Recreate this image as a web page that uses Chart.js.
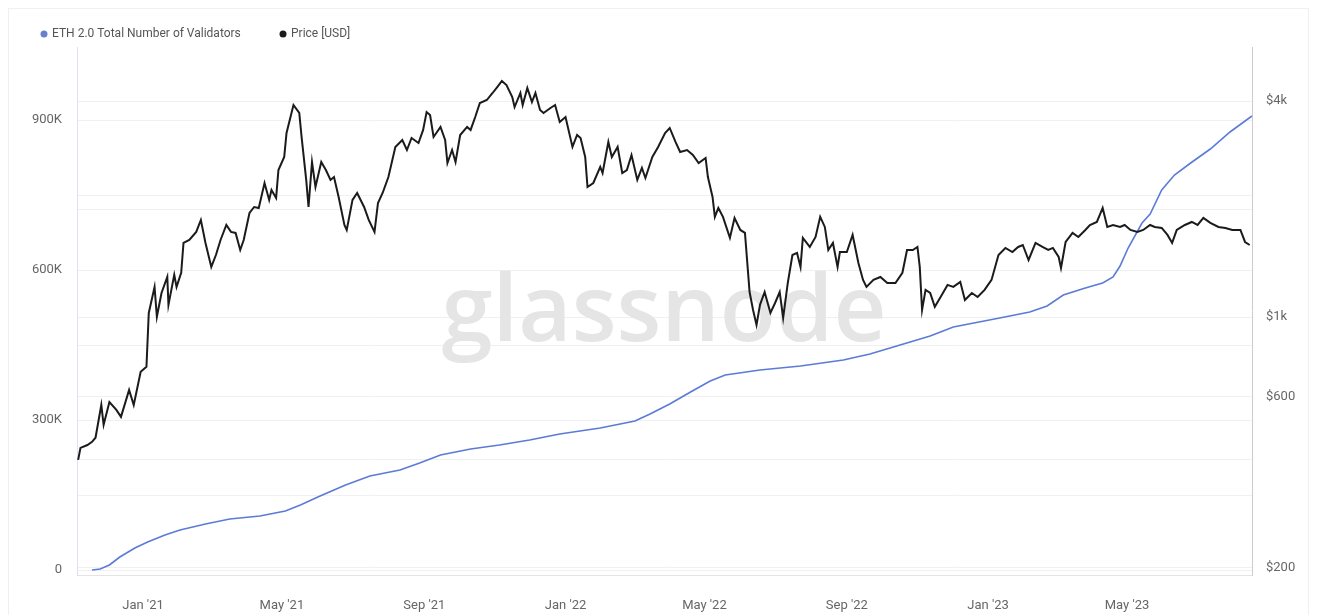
<!DOCTYPE html>
<html>
<head>
<meta charset="utf-8">
<script src="https://cdn.jsdelivr.net/npm/chart.js@4.4.0/dist/chart.umd.min.js"></script>
<style>
    html, body { margin: 0; padding: 0; background: #fff; }
    canvas { display: block; }
</style>
</head>
<body>
<canvas id="chart_validators" width="1317" height="615"></canvas>
<script>
// x values are days counted from 1 Jan 2021
let xTickDays = [0, 120, 243, 365, 485, 608, 730, 850];
let xTickLabels = ["Jan '21", "May '21", "Sep '21", "Jan '22", "May '22", "Sep '22", "Jan '23", "May '23"];

let validatorTicks = [0, 150000, 300000, 450000, 600000, 750000, 900000];
let validatorTickLabels = ['0', '', '300K', '', '600K', '', '900K'];

let priceTicks = [200, 400, 600, 1000, 2000, 4000];
let priceTickLabels = ['$200', '', '$600', '$1k', '', '$4k'];

let validatorDays = [-44, -37, -29, -20, -7, 4, 19, 32, 54, 75, 101, 123, 136, 153, 175, 196, 222, 239, 257, 283,
    308, 334, 360, 395, 425, 438, 455, 473, 490, 503, 533, 568, 605, 628, 654, 680, 700, 740, 766, 781,
    795, 814, 829, 838, 844, 851, 863, 870, 880, 891, 905, 922, 939, 958];
let validatorCount = [0, 2000, 10000, 26000, 44000, 56000, 70000, 80000, 92000, 102000, 108000, 118000, 130000, 148000, 170000, 188000, 200000, 214000, 230000, 242000,
    250000, 260000, 272000, 284000, 298000, 312000, 332000, 356000, 378000, 390000, 400000, 408000, 420000, 432000, 450000, 468000, 486000, 504000, 516000, 528000,
    550000, 564000, 574000, 586000, 608000, 644000, 694000, 712000, 760000, 790000, 814000, 842000, 876000, 908000];

let priceDays = [-56, -54, -48, -44, -41, -36, -34, -29, -23, -19, -12, -8, -2, 3, 5, 10, 12, 16, 21, 22,
    27, 29, 33, 35, 40, 46, 50, 54, 59, 63, 67, 72, 76, 80, 84, 87, 92, 96, 100, 105,
    109, 111, 115, 117, 122, 124, 130, 135, 137, 141, 143, 146, 149, 154, 158, 162, 165, 169, 174, 176,
    181, 185, 191, 195, 200, 203, 207, 212, 218, 224, 228, 232, 238, 242, 245, 248, 251, 257, 261, 263,
    267, 270, 274, 280, 283, 287, 291, 297, 302, 306, 310, 314, 319, 321, 326, 328, 332, 336, 339, 343,
    346, 352, 356, 360, 365, 371, 375, 378, 382, 384, 389, 395, 397, 402, 405, 410, 414, 418, 422, 427,
    431, 434, 440, 445, 451, 455, 460, 464, 470, 475, 480, 486, 488, 492, 494, 497, 501, 507, 511, 516,
    520, 524, 527, 530, 533, 537, 542, 546, 550, 553, 557, 561, 565, 568, 570, 576, 581, 585, 589, 592,
    596, 600, 602, 608, 613, 618, 622, 625, 631, 637, 643, 650, 656, 660, 665, 669, 671, 673, 676, 680,
    684, 689, 695, 700, 706, 710, 716, 721, 727, 733, 739, 745, 751, 756, 760, 765, 771, 777, 782, 786,
    791, 793, 797, 803, 808, 814, 818, 824, 829, 833, 838, 844, 848, 853, 859, 864, 870, 874, 880, 885,
    889, 893, 900, 906, 911, 916, 922, 929, 935, 941, 948, 952, 956];
let priceUsd = [400, 432, 440, 449, 461, 569, 501, 580, 551, 527, 627, 569, 704, 727, 1027, 1214, 1002, 1168, 1294, 1082,
    1312, 1214, 1329, 1610, 1641, 1728, 1866, 1610, 1380, 1490, 1641, 1807, 1728, 1717, 1539, 1641, 1952, 2028, 2015, 2366,
    2122, 2263, 2150, 2571, 2796, 3262, 3903, 3708, 3179, 2412, 2028, 2707, 2306, 2707, 2571, 2412, 2458, 2163, 1807, 1750,
    2122, 2219, 2028, 1866, 1728, 2081, 2219, 2458, 2982, 3118, 2924, 3158, 3059, 3326, 3731, 3660, 3179, 3390, 3118, 2690,
    2924, 2707, 3220, 3390, 3326, 3614, 3954, 4030, 4216, 4380, 4554, 4438, 4108, 3853, 4216, 3903, 4352, 3978, 4216, 3780,
    3708, 3829, 3903, 3500, 3614, 2982, 3220, 3158, 2796, 2306, 2366, 2622, 2522, 3079, 2796, 2982, 2522, 2571, 2832, 2412,
    2605, 2443, 2796, 2982, 3262, 3368, 3079, 2887, 2924, 2832, 2690, 2778, 2458, 2163, 1903, 2015, 1903, 1663, 1890, 1750,
    1717, 1175, 1047, 951, 1082, 1175, 1027, 1095, 1175, 995, 1245, 1490, 1510, 1380, 1663, 1569, 1673, 1903, 1784, 1539,
    1610, 1380, 1519, 1519, 1695, 1416, 1270, 1214, 1270, 1294, 1245, 1245, 1329, 1539, 1539, 1569, 1380, 1047, 1191, 1168,
    1068, 1138, 1230, 1214, 1254, 1116, 1168, 1138, 1191, 1270, 1490, 1559, 1519, 1569, 1589, 1443, 1610, 1569, 1539, 1559,
    1471, 1371, 1620, 1717, 1673, 1750, 1807, 1842, 2015, 1784, 1807, 1784, 1807, 1750, 1728, 1750, 1807, 1784, 1773, 1695,
    1610, 1750, 1807, 1842, 1807, 1890, 1831, 1784, 1773, 1750, 1750, 1620, 1589];

// white card, thin frame, watermark
let glassnodeBackground = {
    id: 'glassnodeBackground',
    beforeDraw(chart) {
        let c = chart.ctx;
        c.save();
        c.fillStyle = '#ffffff';
        c.fillRect(0, 0, chart.width, chart.height);
        c.strokeStyle = '#f0f0f0';
        c.lineWidth = 1;
        c.strokeRect(8.5, 8.5, 1300, 640);
        c.restore();
    },
    beforeDatasetsDraw(chart) {
        let c = chart.ctx;
        c.save();
        c.font = '600 100px "Open Sans", sans-serif';
        let w = c.measureText('glassnode').width;
        let size = 100 * 445 / w;
        c.font = '600 ' + size + 'px "Open Sans", sans-serif';
        c.fillStyle = '#e5e5e5';
        c.textAlign = 'center';
        c.textBaseline = 'alphabetic';
        c.fillText('glassnode', 664, 341);
        c.restore();
    }
};

// small legend in the top left corner
let glassnodeLegend = {
    id: 'glassnodeLegend',
    afterDraw(chart) {
        let c = chart.ctx;
        let xs = [44, 283];
        c.save();
        c.font = '12px Roboto, sans-serif';
        c.textBaseline = 'middle';
        c.textAlign = 'left';
        chart.data.datasets.forEach(function (ds, i) {
            c.fillStyle = ds.legendColor;
            c.beginPath();
            c.arc(xs[i], 34, 3.5, 0, Math.PI * 2);
            c.fill();
            c.fillStyle = '#555555';
            c.fillText(ds.label, xs[i] + 8, 34);
        });
        c.restore();
    }
};

let ctx_validators = document.getElementById("chart_validators");
let chart_validators = new Chart(ctx_validators, {
    type: 'line',
    data: {
        datasets: [{
            label: 'ETH 2.0 Total Number of Validators',
            data: validatorDays.map((d, i) => ({x: d, y: validatorCount[i]})),
            yAxisID: 'y',
            borderColor: '#5b7bd6',
            legendColor: '#6a7fd0',
            borderWidth: 1.6,
            pointRadius: 0,
            tension: 0,
            order: 2
        }, {
            label: 'Price [USD]',
            data: priceDays.map((d, i) => ({x: d, y: priceUsd[i]})),
            yAxisID: 'y1',
            borderColor: '#1b1b1b',
            legendColor: '#1b1b1b',
            borderWidth: 2,
            pointRadius: 0,
            tension: 0,
            order: 1
        }]
    },
    options: {
        responsive: false,
        animation: false,
        events: [],
        layout: {
            padding: {top: 47, left: 0, right: 0, bottom: 0}
        },
        plugins: {
            legend: {display: false},
            tooltip: {enabled: false}
        },
        scales: {
            x: {
                type: 'linear',
                min: -57,
                max: 958,
                afterFit: (scale) => { scale.height = 40; },
                afterBuildTicks: (scale) => { scale.ticks = xTickDays.map(v => ({value: v})); },
                ticks: {
                    autoSkip: false,
                    maxRotation: 0,
                    padding: 15,
                    color: '#666666',
                    font: {family: 'Roboto', size: 13},
                    callback: (value, index) => xTickLabels[index]
                },
                grid: {display: false},
                border: {display: true, color: '#e4e4e4'}
            },
            y: {
                position: 'left',
                min: -10000,
                max: 1046000,
                afterFit: (scale) => { scale.width = 77; },
                afterBuildTicks: (scale) => { scale.ticks = validatorTicks.map(v => ({value: v})); },
                ticks: {
                    padding: 15,
                    color: '#666666',
                    font: {family: 'Roboto', size: 13},
                    callback: (value, index) => validatorTickLabels[index]
                },
                grid: {color: '#f0f0f0', drawTicks: false},
                border: {display: true, color: '#dfe3ee'}
            },
            y1: {
                type: 'logarithmic',
                position: 'right',
                min: 191,
                max: 5664,
                afterFit: (scale) => { scale.width = 65; },
                afterBuildTicks: (scale) => { scale.ticks = priceTicks.map(v => ({value: v})); },
                ticks: {
                    padding: 14,
                    color: '#666666',
                    font: {family: 'Roboto', size: 13},
                    callback: (value, index) => priceTickLabels[index]
                },
                grid: {color: '#f0f0f0', drawTicks: false},
                border: {display: true, color: '#cccccc'}
            }
        }
    },
    plugins: [glassnodeBackground, glassnodeLegend]
});
</script>
</body>
</html>
